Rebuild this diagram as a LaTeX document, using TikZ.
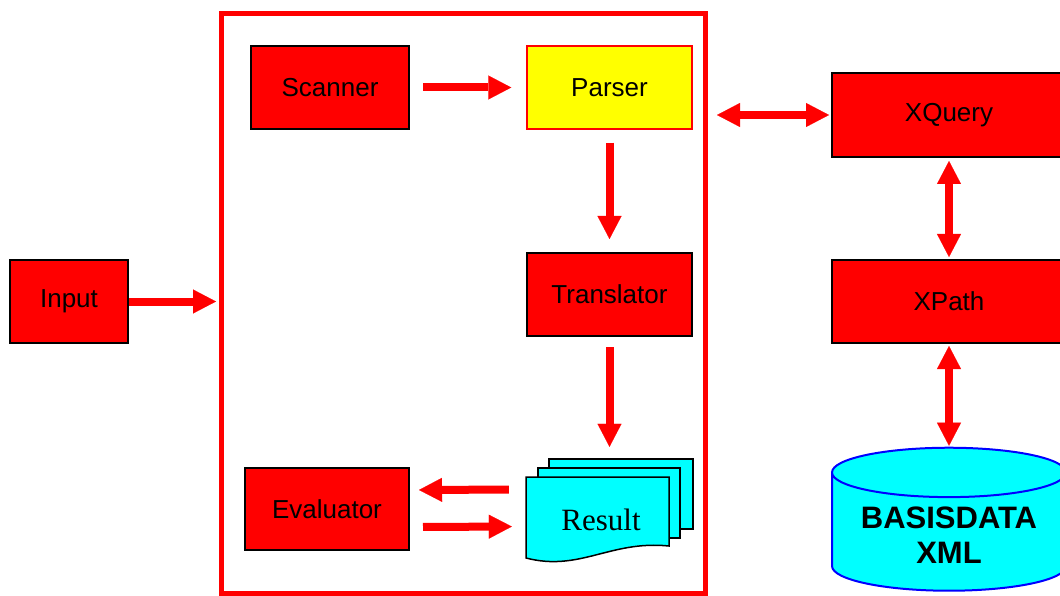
\documentclass[tikz,border=0pt]{standalone}
\usepackage{fontspec}
\setmainfont{Liberation Sans}
\newfontfamily\resfont{Liberation Serif}
\usetikzlibrary{arrows.meta,positioning,calc,shapes.geometric}
\definecolor{boxred}{RGB}{255,0,0}
\definecolor{boxyellow}{RGB}{255,255,0}
\definecolor{pagecyan}{RGB}{0,255,255}
\definecolor{dbblue}{RGB}{0,0,255}
\tikzset{blk/.style={draw=black, fill=boxred, line width=2, minimum width=160, minimum height=83, font=\fontsize{26}{30}\selectfont}}
\tikzset{arr/.style={draw=boxred, line width=8, -{Triangle[length=23pt, width=24pt, line width=0.1pt]}}}
\tikzset{dbl/.style={arr, {Triangle[length=23pt, width=24pt, line width=0.1pt]}-{Triangle[length=23pt, width=24pt, line width=0.1pt]}}}
\tikzset{sheet/.style={fill=pagecyan, draw=black, line width=1.5}}

\begin{document}
\begin{tikzpicture}[x=1pt, y=-1pt]
    \clip (0,0) rectangle (1060,596);
    \node[draw=boxred, line width=5, minimum width=484, minimum height=579] (frame) at (463.5,303.5) {};

    \node[blk, minimum width=158] (scan) at (330,87.5) {Scanner};
    \node[blk, fill=boxyellow, draw=boxred, line width=1.5, minimum width=165] (pars) at (609.5,87.5) {Parser};
    \node[blk, minimum width=165] (trans) at (609.5,294.5) {Translator};
    \node[blk, minimum width=164, minimum height=82] (eval) at (327,509) {Evaluator};
    \node[blk, minimum width=118] (inp) at (69,301.5) {Input};
    \node[blk, minimum width=234, minimum height=84] (xq) at (949,115) {XQuery};
    \node[blk, minimum width=234] (xp) at (949,301.5) {XPath};

    % stacked result pages
    \node[minimum width=167, minimum height=99] (res) at (609.5,508.5) {};
    \filldraw[sheet] (549,459) rectangle (693,529);
    \filldraw[sheet] (538,468) rectangle (680,538);
    \filldraw[sheet] (526,477) -- (669,477) -- (669,546) .. controls (610,540) and (580,572) .. (526,558) -- cycle;
    \node[font=\resfont\fontsize{31}{36}\selectfont] (restxt) at (601,520) {Result};

    \node[cylinder, shape border rotate=90, aspect=0.27, draw=dbblue, line width=2, fill=pagecyan,
          minimum width=234, minimum height=143, align=center,
          font=\bfseries\fontsize{31}{35}\selectfont] (db) at (949,535) {BASISDATA\\XML};

    \draw[arr, shorten <=13, shorten >=15] (scan) to (pars);
    \draw[arr, shorten <=13, shorten >=13] (pars) to (trans);
    \draw[arr, shorten <=10, shorten >=12] (trans) to (res);
    \draw[arr, shorten <=17, shorten >=9] ([yshift=19]res.west) to ([yshift=19]eval.east);
    \draw[arr, shorten <=13, shorten >=14] ([yshift=-18]eval.east) to ([yshift=-18]res.west);
    \draw[arr, shorten >=3] (inp) to (inp -| frame.west);
    \draw[dbl, shorten <=9, shorten >=2] (frame.east |- xq.west) to (xq.west);
    \draw[dbl, shorten <=3, shorten >=2] (xq) to (xp);
    \draw[dbl, shorten <=2, shorten >=1] (xp) to (db);
\end{tikzpicture}
\end{document}
